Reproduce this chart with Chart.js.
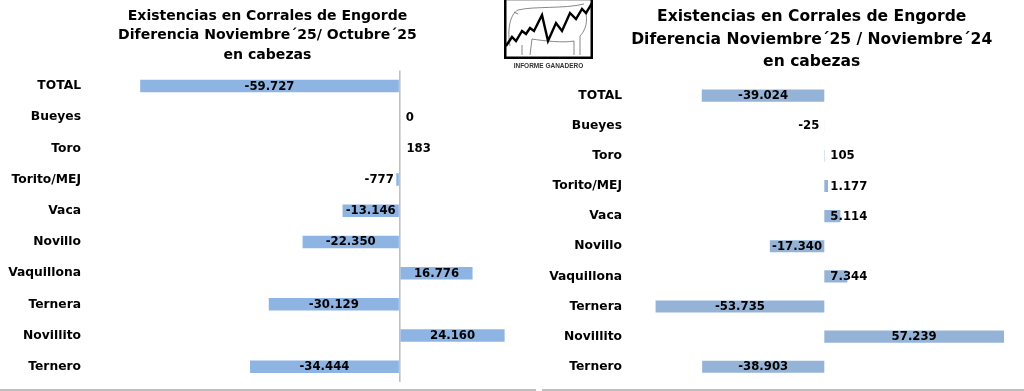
<!DOCTYPE html>
<html>
<head>
<meta charset="utf-8">
<script src="https://cdn.jsdelivr.net/npm/chart.js@4.4.1/dist/chart.umd.min.js"></script>
<style>
  html, body { margin: 0; padding: 0; background: #fff; overflow: hidden; }
  body { width: 1024px; height: 391px; position: relative; }
  .box { position: absolute; top: 0; overflow: hidden; }
  .rule { position: absolute; top: 389px; height: 2px; background: #c0c0c0; }
  #logo { position: absolute; left: 504px; top: 0; }
  #logoText { position: absolute; left: 504px; width: 89px; top: 62px; text-align: center;
    font: bold 6.5px "Liberation Sans Narrow", "Liberation Sans", sans-serif; color: #333; }
</style>
</head>
<body>
<div class="box" style="left:0;width:536px;height:391px"><canvas id="monthChart" width="536" height="391"></canvas></div>
<div class="box" style="left:541px;width:483px;height:391px"><canvas id="yearChart" width="542" height="391"></canvas></div>
<div class="rule" style="left:0;width:536px"></div>
<div class="rule" style="left:542px;width:482px"></div>

<svg id="logo" width="89" height="59" viewBox="0 0 89 59">
  <rect x="1.25" y="-1" width="86.5" height="58.75" fill="#fff" stroke="#000" stroke-width="2.5"/>
  <path d="M6,46 C3,30 6,14 14,10 C30,6 60,9 80,4 M82,14 C84,24 80,32 76,36 L76,55 M70,55 L70,41 C60,43 40,41 28,39 L26,55 M18,55 L18,45 M10,12 L14,14"
        fill="none" stroke="#555" stroke-width="0.7"/>
  <polyline points="2,46 8,37 12,41 18,31 22,34 26,28 30,31 38,15 44,41 52,23 58,31 66,13 72,19 78,9 82,13 88,3"
        fill="none" stroke="#000" stroke-width="2.4" stroke-linejoin="miter"/>
</svg>
<div id="logoText">INFORME GANADERO</div>

<script>
// Categories and differences (head counts)
const categories = ['TOTAL', 'Bueyes', 'Toro', 'Torito/MEJ', 'Vaca', 'Novillo', 'Vaquillona', 'Ternera', 'Novillito', 'Ternero'];
const diffNovOct = [-59727, 0, 183, -777, -13146, -22350, 16776, -30129, 24160, -34444];
const diffNovNov = [-39024, -25, 105, 1177, 5114, -17340, 7344, -53735, 57239, -38903];

const titleNovOct = ['Existencias en Corrales de Engorde', 'Diferencia Noviembre´25/ Octubre´25', 'en cabezas'];
const titleNovNov = ['Existencias en Corrales de Engorde', 'Diferencia Noviembre´25 / Noviembre´24', 'en cabezas'];

const FONT = '"DejaVu Sans", sans-serif';

function fmt(v) {
    const s = String(Math.abs(v)).replace(/\B(?=(\d{3})+(?!\d))/g, '.');
    return v < 0 ? '-' + s : s;
}

// value labels: centred when they fit in the bar, otherwise from the base outwards
const barLabels = {
    id: 'barLabels',
    afterDatasetsDraw(chart) {
        const ctx = chart.ctx;
        const meta = chart.getDatasetMeta(0);
        const data = chart.data.datasets[0].data;
        ctx.save();
        ctx.font = 'bold 11.7px ' + FONT;
        ctx.fillStyle = '#000';
        ctx.textBaseline = 'middle';
        meta.data.forEach((bar, i) => {
            const v = data[i];
            const txt = fmt(v);
            const w = ctx.measureText(txt).width;
            const len = Math.abs(bar.x - bar.base);
            if (w + 4 <= len) {
                ctx.textAlign = 'center';
                ctx.fillText(txt, (bar.x + bar.base) / 2, bar.y + 0.5);
            } else if (v >= 0) {
                ctx.textAlign = 'left';
                ctx.fillText(txt, bar.base + 6, bar.y + 0.5);
            } else {
                ctx.textAlign = 'right';
                ctx.fillText(txt, bar.base - 5, bar.y + 0.5);
            }
        });
        ctx.restore();
    }
};

function makeChart(id, values, title, o) {
    return new Chart(document.getElementById(id).getContext('2d'), {
        type: 'bar',
        data: {
            labels: categories,
            datasets: [{
                data: values,
                backgroundColor: o.color,
                barPercentage: 0.4,
                categoryPercentage: 1.0
            }]
        },
        options: {
            indexAxis: 'y',
            responsive: false,
            animation: false,
            layout: { padding: o.padding },
            plugins: {
                legend: { display: false },
                tooltip: { enabled: false },
                title: {
                    display: true,
                    text: title,
                    color: '#000',
                    font: { family: FONT, weight: 'bold', size: o.titleSize, lineHeight: o.titleLine },
                    padding: o.titlePad
                }
            },
            scales: {
                x: {
                    min: o.min,
                    max: o.max,
                    ticks: { display: false, stepSize: 10000 },
                    border: { display: false },
                    grid: {
                        drawTicks: false,
                        lineWidth: 1.6,
                        color: c => c.tick && c.tick.value === 0 ? '#c0c0c0' : 'rgba(0,0,0,0)'
                    }
                },
                y: {
                    afterFit: s => {
                        s.width = o.axisWidth;
                        s.paddingTop = 0;
                        s.paddingBottom = 0;
                    },
                    border: { display: false },
                    grid: { display: false, drawTicks: false },
                    ticks: {
                        color: '#000',
                        padding: o.labelPad,
                        font: { family: FONT, weight: 'bold', size: 12.3 }
                    }
                }
            }
        },
        plugins: [barLabels]
    });
}

makeChart('monthChart', diffNovOct, titleNovOct, {
    color: '#8eb4e3',
    padding: { left: 5, right: 6, top: 0, bottom: 8.7 },
    titleSize: 14.05, titleLine: 1.41, titlePad: { top: 6, bottom: 5 },
    min: -60000, max: 30000,
    axisWidth: 134, labelPad: 58
});

// canvas is wider than its box so the title centres where the original one sits
makeChart('yearChart', diffNovNov, titleNovNov, {
    color: '#95b3d7',
    padding: { left: 5, right: 5.6, top: 0, bottom: 9.2 },
    titleSize: 15.55, titleLine: 1.447, titlePad: { top: 5.75, bottom: 7.3 },
    min: -60000, max: 80600,
    axisWidth: 89.9, labelPad: 13.9
});
</script>
</body>
</html>
